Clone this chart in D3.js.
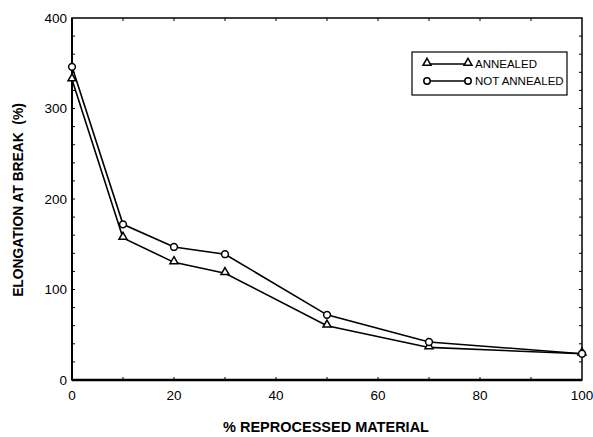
<!DOCTYPE html>
<html>
<head>
<meta charset="utf-8">
<script src="https://cdn.jsdelivr.net/npm/d3@7"></script>
<style>
  body { margin: 0; background: #fff; }
  text { font-family: "Liberation Sans", Arial, sans-serif; fill: #000; }
</style>
</head>
<body>
<div id="chart"></div>
<script>
const reprocessed = [0, 10, 20, 30, 50, 70, 100];
const annealed = [332, 157, 130, 118, 60, 36, 29];
const notAnnealed = [346, 172, 147, 139, 72, 42, 29];
const xTicks = [0, 20, 40, 60, 80, 100];
const yTicks = [0, 100, 200, 300, 400];
const seriesNames = ["ANNEALED", "NOT ANNEALED"];

const width = 593, height = 437;
const margin = { left: 72, right: 11, top: 18, bottom: 57 };

const svg = d3.select("#chart").append("svg")
    .attr("width", width)
    .attr("height", height);

const x = d3.scaleLinear().domain([0, 100]).range([margin.left, width - margin.right]);
const y = d3.scaleLinear().domain([0, 400]).range([height - margin.bottom, margin.top]);

// minor ticks, inward on all four sides
const xMinor = d3.range(10, 100, 10);
const yMinor = d3.range(20, 400, 20);
const tickLen = 3;

const g = svg.append("g");
g.selectAll(".xt").data(xMinor).enter().append("path")
    .attr("d", d => `M${x(d)},${y(0)}V${y(0) - tickLen}M${x(d)},${y(400)}V${y(400) + tickLen}`)
    .attr("stroke", "#000").attr("stroke-width", 1);
g.selectAll(".yt").data(yMinor).enter().append("path")
    .attr("d", d => `M${x(0)},${y(d)}H${x(0) + tickLen}M${x(100)},${y(d)}H${x(100) - tickLen}`)
    .attr("stroke", "#000").attr("stroke-width", 1);

// frame
g.append("rect")
    .attr("x", x(0)).attr("y", y(400))
    .attr("width", x(100) - x(0)).attr("height", y(0) - y(400))
    .attr("fill", "none").attr("stroke", "#000").attr("stroke-width", 1.5);
g.append("line")
    .attr("x1", x(0)).attr("x2", x(100)).attr("y1", y(0)).attr("y2", y(0))
    .attr("stroke", "#000").attr("stroke-width", 2.5);
g.append("line")
    .attr("x1", x(0)).attr("x2", x(0)).attr("y1", y(0)).attr("y2", y(400))
    .attr("stroke", "#000").attr("stroke-width", 2);

// tick labels
svg.selectAll(".xl").data(xTicks).enter().append("text")
    .attr("x", d => x(d)).attr("y", y(0) + 20)
    .attr("text-anchor", "middle")
    .style("font-size", "13.5px")
    .text(d => d);
svg.selectAll(".yl").data(yTicks).enter().append("text")
    .attr("x", x(0) - 5).attr("y", d => y(d))
    .attr("dy", "0.35em")
    .attr("text-anchor", "end")
    .style("font-size", "13.5px")
    .text(d => d);

// axis titles
svg.append("text")
    .attr("x", (x(0) + x(100)) / 2 - 1).attr("y", 432)
    .attr("text-anchor", "middle")
    .style("font-size", "14.5px").style("font-weight", "bold")
    .text("% REPROCESSED MATERIAL");
svg.append("text")
    .attr("transform", `translate(23, ${(y(0) + y(400)) / 2 + 1}) rotate(-90)`)
    .attr("text-anchor", "middle")
    .style("font-size", "13.8px").style("font-weight", "bold")
    .style("white-space", "pre")
    .text("ELONGATION AT BREAK  (%)");

const line = d3.line().x(d => x(d[0])).y(d => y(d[1]));
const triangle = d3.symbol().type(d3.symbolTriangle).size(28);

function drawSeries(vals, marker) {
    const pts = reprocessed.map((r, i) => [r, vals[i]]);
    svg.append("path").datum(pts)
        .attr("d", line)
        .attr("fill", "none").attr("stroke", "#000").attr("stroke-width", 1.6);
    const m = svg.selectAll(null).data(pts).enter();
    if (marker === "tri") {
        m.append("path")
            .attr("d", triangle)
            .attr("transform", d => `translate(${x(d[0])},${y(d[1]) - 1})`)
            .attr("fill", "#fff").attr("stroke", "#000").attr("stroke-width", 1.5);
    } else {
        m.append("circle")
            .attr("cx", d => x(d[0])).attr("cy", d => y(d[1]))
            .attr("r", 3.4)
            .attr("fill", "#fff").attr("stroke", "#000").attr("stroke-width", 1.5);
    }
}
drawSeries(annealed, "tri");
drawSeries(notAnnealed, "circ");

// legend
const lg = svg.append("g").attr("transform", "translate(412,52)");
lg.append("rect")
    .attr("width", 155).attr("height", 43)
    .attr("fill", "#fff").attr("stroke", "#000").attr("stroke-width", 1.2);
seriesNames.forEach((name, i) => {
    const ly = 12 + i * 17;
    lg.append("line")
        .attr("x1", 15).attr("x2", 56).attr("y1", ly).attr("y2", ly)
        .attr("stroke", "#000").attr("stroke-width", 1.4);
    [15, 56].forEach(px => {
        if (i === 0) {
            lg.append("path").attr("d", triangle)
                .attr("transform", `translate(${px},${ly - 1})`)
                .attr("fill", "#fff").attr("stroke", "#000").attr("stroke-width", 1.5);
        } else {
            lg.append("circle").attr("cx", px).attr("cy", ly).attr("r", 3.2)
                .attr("fill", "#fff").attr("stroke", "#000").attr("stroke-width", 1.5);
        }
    });
    lg.append("text")
        .attr("x", 63).attr("y", ly).attr("dy", "0.35em")
        .style("font-size", "11.5px")
        .text(name);
});
</script>
</body>
</html>
